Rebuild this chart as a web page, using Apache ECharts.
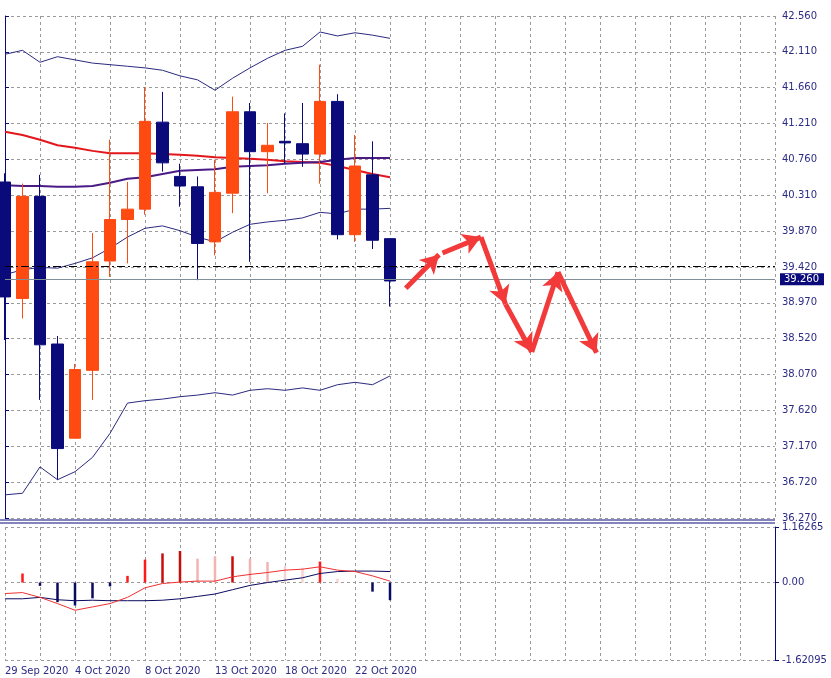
<!DOCTYPE html>
<html>
<head>
<meta charset="utf-8">
<script src="https://cdn.jsdelivr.net/npm/echarts@6/dist/echarts.min.js"></script>
<style>html,body{margin:0;padding:0;background:#fff}#chart{width:831px;height:678px}</style>
</head>
<body>
<div id="chart"></div>
<script>
// trading days, then empty future slots
var dates = ['29 Sep 2020','30 Sep 2020','1 Oct 2020','2 Oct 2020','4 Oct 2020','5 Oct 2020','6 Oct 2020','7 Oct 2020',
    '8 Oct 2020','9 Oct 2020','11 Oct 2020','12 Oct 2020','13 Oct 2020','14 Oct 2020','15 Oct 2020','16 Oct 2020',
    '18 Oct 2020','19 Oct 2020','20 Oct 2020','21 Oct 2020','22 Oct 2020','23 Oct 2020','25 Oct 2020'];
var futureSlots = 22;

var openP  = [40.48,39.02,40.30,38.45,37.27,38.12,39.49,40.01,40.14,41.23,40.55,40.42,39.73,40.34,41.36,40.86,40.99,40.96,40.83,41.49,39.82,40.57,39.77];
var closeP = [39.04,40.30,38.44,37.14,38.13,39.48,40.01,40.14,41.24,40.72,40.43,39.71,40.35,41.36,40.86,40.94,40.97,40.83,41.49,39.82,40.68,39.75,39.24];
var lowP   = [38.50,38.77,37.75,36.75,37.27,37.75,39.29,39.46,40.07,40.61,40.17,39.25,39.56,40.09,39.48,40.34,40.71,40.67,40.46,39.76,39.73,39.64,38.92];
var highP  = [40.59,40.46,40.57,38.55,38.20,39.84,41.01,40.48,41.67,41.61,40.71,40.55,40.76,41.55,41.47,41.22,41.34,41.47,41.95,41.58,41.07,40.99,39.77];

var bbUpper  = [42.08,42.13,41.98,42.05,42.01,41.97,41.95,41.93,41.91,41.88,41.81,41.76,41.63,41.78,41.91,42.03,42.13,42.18,42.36,42.31,42.35,42.32,42.28];
var bbMiddle = [39.32,39.38,39.41,39.40,39.46,39.53,39.65,39.79,39.90,39.93,39.87,39.79,39.73,39.85,39.95,39.98,40.00,40.03,40.10,40.08,40.14,40.14,40.15];
var bbLower  = [36.56,36.58,36.91,36.75,36.85,37.03,37.33,37.71,37.74,37.76,37.79,37.81,37.84,37.81,37.87,37.89,37.87,37.90,37.87,37.94,37.97,37.94,38.05];
var maRed    = [41.11,41.07,41.01,40.94,40.91,40.87,40.84,40.84,40.84,40.83,40.82,40.81,40.79,40.78,40.77,40.76,40.74,40.73,40.72,40.68,40.63,40.58,40.54];
var maPurple = [40.44,40.43,40.43,40.42,40.42,40.43,40.47,40.52,40.54,40.58,40.62,40.63,40.64,40.67,40.68,40.69,40.71,40.72,40.73,40.76,40.78,40.78,40.78];

var priceTicks = ['36.270','36.720','37.170','37.620','38.070','38.520','38.970','39.420','39.870','40.310','40.760','41.210','41.660','42.110','42.560'];
var priceMin = 36.27, priceMax = 42.56;
var levelLine = 39.42, lastPrice = 39.26;

// forecast arrows: [slot, price] pairs
var arrowPath = [[22.9,39.15],[24.8,39.57],[25.0,39.59],[27.2,39.79],[28.6,38.95],[30.1,38.35],[31.6,39.35],[33.8,38.34]];
var arrowSegs = [[0,1],[2,3],[3,4],[4,5],[5,6],[6,7]];

// lower oscillator
var oscHist   = [0,0.19,-0.07,-0.41,-0.48,-0.33,-0.08,0.14,0.48,0.61,0.66,0.50,0.55,0.55,0.50,0.43,0.35,0.31,0.44,0.08,0,-0.19,-0.37];
var oscState  = ['u','u','d','d','d','d','d','u','u','s','s','f','f','s','f','f','l','l','u','l','l','d','d'];
var oscSignal = [-0.23,-0.21,-0.31,-0.44,-0.58,-0.51,-0.44,-0.31,-0.11,-0.02,0.01,0.03,0.03,0.12,0.17,0.21,0.26,0.28,0.33,0.26,0.23,0.14,0.03];
var oscMain   = [-0.34,-0.34,-0.31,-0.36,-0.38,-0.37,-0.38,-0.38,-0.38,-0.37,-0.34,-0.29,-0.24,-0.15,-0.06,0,0.05,0.10,0.19,0.23,0.24,0.24,0.23];
var oscMin = -1.62095, oscMax = 1.16265;

var cats = dates.slice();
for (var i = 0; i < futureSlots; i++) cats.push('');
var N = cats.length;

var navy = '#0a0a7a', orange = '#ff4a12', txt = '#2b2b86';
var stateColor = {u:'#ff1a1a', s:'#c80c0c', f:'#f2b3b3', l:'#f7d3d3', d:'#0a0a60'};

var candles = openP.map(function (o, i) { return [o, closeP[i], lowP[i], highP[i]]; });
var hist = oscHist.map(function (v, i) { return {value: v, itemStyle: {color: stateColor[oscState[i]]}}; });
var arrows = arrowSegs.map(function (s) {
    return [{coord: arrowPath[s[0]]}, {coord: arrowPath[s[1]]}];
});

var chart = echarts.init(document.getElementById('chart'));
var gridLine = {show: true, lineStyle: {color: '#9a9a9a', type: [3, 3], width: 1}};
var catAxis = {
    type: 'category', data: cats, boundaryGap: false,
    axisLine: {show: false}, axisTick: {show: false},
    splitLine: {show: true, interval: 1, lineStyle: gridLine.lineStyle}
};
function lineS(data, color, width, xi, yi) {
    return {type: 'line', data: data, xAxisIndex: xi || 0, yAxisIndex: yi || 0, symbol: 'none',
        lineStyle: {color: color, width: width}, silent: true, z: 3, clip: false};
}

option = {
    animation: false,
    backgroundColor: '#fff',
    textStyle: {fontFamily: 'DejaVu Sans'},
    grid: [
        {left: 5, right: 56, top: 16, height: 502},
        {left: 5, right: 56, top: 527, height: 133}
    ],
    xAxis: [
        Object.assign({gridIndex: 0, axisLabel: {show: false}}, catAxis),
        Object.assign({gridIndex: 1, axisLabel: {show: true, interval: 3, align: 'left', margin: 6, color: txt, fontSize: 10}}, catAxis),
        {type: 'value', gridIndex: 0, min: 0, max: N - 1, show: false}
    ],
    yAxis: [
        {type: 'value', gridIndex: 0, position: 'right', min: priceMin, max: priceMax,
            interval: (priceMax - priceMin) / 14, scale: true,
            axisLine: {show: true, lineStyle: {color: navy}}, axisTick: {show: true, length: 4, lineStyle: {color: navy}},
            axisLabel: {color: txt, fontSize: 10, margin: 7, formatter: function (v) {
                return priceTicks[Math.round((v - priceMin) / ((priceMax - priceMin) / 14))];
            }},
            splitLine: gridLine},
        {type: 'value', gridIndex: 1, position: 'right', min: oscMin, max: oscMax, interval: -oscMin,
            axisLine: {show: true, lineStyle: {color: navy}}, axisTick: {show: true, length: 4, lineStyle: {color: navy}},
            axisLabel: {color: txt, fontSize: 10, margin: 7, formatter: function (v) {
                return Math.abs(v) < 1e-9 ? '0.00' : v.toFixed(5);
            }},
            splitLine: gridLine}
    ],
    graphic: [
        {type: 'line', shape: {x1: 0, y1: 520, x2: 775, y2: 520}, style: {stroke: navy, lineWidth: 1}},
        {type: 'line', shape: {x1: 0, y1: 523, x2: 775, y2: 523}, style: {stroke: navy, lineWidth: 1}}
    ],
    series: [
        lineS(bbUpper, '#2a2a80', 1),
        lineS(bbMiddle, '#2a2a80', 1),
        lineS(bbLower, '#2a2a80', 1),
        lineS(maRed, '#e3161c', 2),
        lineS(maPurple, '#4a1a86', 2),
        {
            type: 'candlestick', data: candles, xAxisIndex: 0, yAxisIndex: 0, barWidth: 12, z: 4, clip: false,
            itemStyle: {color: orange, color0: navy, borderColor: orange, borderColor0: navy, borderWidth: 1},
            markLine: {
                silent: true, symbol: 'none',
                data: [
                    {yAxis: levelLine, lineStyle: {color: '#000', type: [8, 3, 2, 3], width: 1}, label: {show: false}},
                    {yAxis: lastPrice, lineStyle: {color: '#7f8f9a', type: 'solid', width: 1},
                        label: {show: true, position: 'end', formatter: '39.260', color: '#fff', backgroundColor: navy,
                            fontSize: 10, padding: [1, 5, 1, 4], distance: 5}}
                ]
            }
        },
        {
            type: 'line', data: [], xAxisIndex: 2, yAxisIndex: 0, symbol: 'none',
            markLine: {
                silent: true, symbol: ['none', 'arrow'], symbolSize: [16, 18],
                lineStyle: {color: '#f23a3a', width: 5, type: 'solid'},
                label: {show: false},
                data: arrows
            }
        },
        {type: 'bar', data: hist, xAxisIndex: 1, yAxisIndex: 1, barWidth: 2.5, z: 2},
        lineS(oscMain, '#0a0a60', 1, 1, 1),
        lineS(oscSignal, '#f03030', 1, 1, 1)
    ]
};
chart.setOption(option);
</script>
</body>
</html>
